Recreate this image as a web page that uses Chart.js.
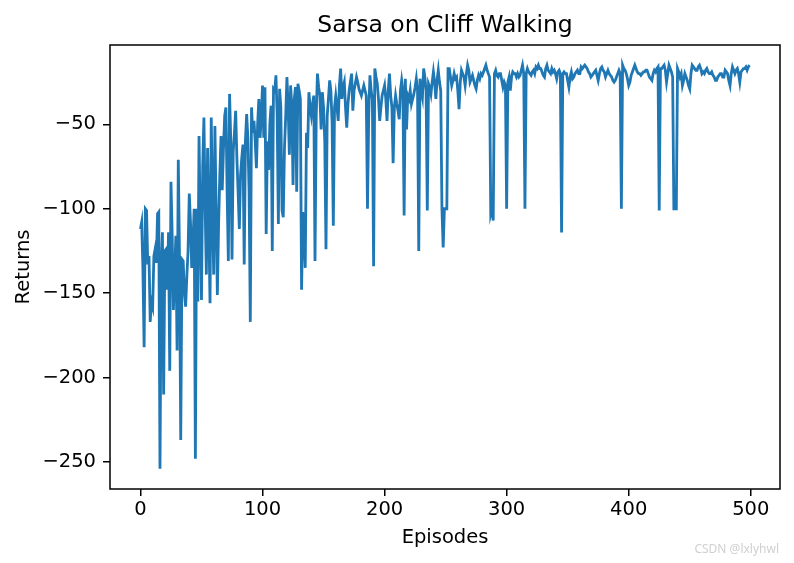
<!DOCTYPE html>
<html>
<head>
<meta charset="utf-8">
<script src="https://cdn.jsdelivr.net/npm/chart.js@4/dist/chart.umd.min.js"></script>
<style>
  html, body { margin: 0; padding: 0; background: #fff; }
</style>
</head>
<body>
<canvas id="returnsChart" width="794" height="563"></canvas>
<script>
// return of each episode (episode = index)
var returns = [
  -112, -108, -135, -182, -100, -101, -133, -128, -167, -155,
  -158, -128, -124, -132, -103, -102, -254, -135, -114, -210,
  -125, -124, -148, -114, -196, -84, -116, -160, -140, -116,
  -184, -71, -130, -237, -130, -131, -150, -158, -140, -125,
  -91, -108, -135, -120, -100, -248, -100, -155, -57, -110,
  -154, -75, -46, -100, -139, -64, -110, -156, -46, -100,
  -139, -51, -100, -151, -110, -80, -57, -89, -65, -45,
  -40, -90, -131, -32, -60, -130, -66, -55, -42, -70,
  -90, -112, -80, -70, -62, -133, -60, -44, -58, -90,
  -167, -40, -55, -48, -60, -76, -50, -35, -58, -45,
  -27, -58, -28, -115, -60, -77, -50, -39, -125, -29,
  -30, -21, -45, -109, -29, -40, -101, -105, -64, -45,
  -22, -40, -68, -27, -40, -86, -35, -28, -90, -26,
  -30, -35, -148, -102, -115, -135, -55, -64, -31, -40,
  -45, -38, -33, -131, -45, -20, -28, -33, -53, -31,
  -40, -60, -124, -45, -35, -24, -30, -49, -110, -40,
  -33, -40, -48, -27, -17, -35, -28, -25, -40, -52,
  -38, -30, -25, -20, -42, -30, -26, -22, -25, -29,
  -31, -33, -30, -27, -30, -33, -100, -45, -21, -30,
  -35, -134, -17, -22, -26, -35, -48, -40, -33, -30,
  -27, -35, -48, -30, -20, -33, -40, -73, -40, -33,
  -38, -42, -47, -30, -24, -30, -104, -23, -53, -33,
  -35, -30, -38, -35, -32, -28, -23, -30, -125, -23,
  -30, -34, -17, -22, -30, -101, -26, -28, -32, -25,
  -19, -25, -35, -24, -18, -25, -30, -100, -123, -100,
  -100, -100, -17, -17, -22, -27, -24, -20, -23, -22,
  -30, -41, -25, -18, -20, -22, -27, -20, -15, -18,
  -25, -23, -21, -24, -27, -29, -24, -21, -23, -20,
  -21, -19, -17, -15, -18, -20, -22, -103, -100, -107,
  -20, -18, -21, -22, -20, -20, -24, -28, -25, -27,
  -100, -25, -22, -30, -22, -19, -20, -20, -22, -20,
  -22, -21, -18, -15, -20, -100, -20, -17, -19, -20,
  -21, -19, -18, -20, -16, -17, -15, -17, -17, -19,
  -21, -22, -17, -15, -18, -19, -20, -17, -19, -18,
  -20, -23, -19, -18, -20, -114, -20, -19, -20, -20,
  -24, -28, -22, -19, -23, -22, -20, -19, -18, -20,
  -20, -16, -17, -16, -15, -16, -17, -19, -20, -22,
  -21, -20, -19, -18, -21, -24, -20, -17, -16, -18,
  -19, -22, -20, -18, -20, -21, -22, -24, -25, -24,
  -22, -20, -18, -20, -100, -15, -17, -18, -20, -23,
  -27, -25, -21, -19, -17, -15, -17, -19, -20, -20,
  -21, -20, -19, -19, -18, -18, -20, -22, -23, -24,
  -20, -18, -19, -17, -16, -101, -17, -17, -16, -15,
  -18, -25, -20, -15, -17, -19, -22, -100, -100, -100,
  -17, -19, -22, -20, -27, -24, -20, -22, -24, -27,
  -29, -20, -15, -16, -17, -18, -18, -16, -15, -17,
  -20, -19, -20, -18, -17, -19, -20, -20, -19, -21,
  -22, -24, -24, -22, -21, -20, -20, -22, -22, -18,
  -19, -20, -24, -27, -20, -16, -18, -20, -18, -17,
  -20, -25, -19, -18, -17, -17, -16, -18, -16, -15
];
var xTicks = [0, 100, 200, 300, 400, 500];
var yTicks = [-250, -200, -150, -100, -50];

var lineColor = '#1f77b4';
var fontFamily = '"DejaVu Sans", sans-serif';
var titleText = 'Sarsa on Cliff Walking';

// matplotlib style 5% margins around the data
var nEp = returns.length;
var xPad = (nEp - 1) * 0.05;
var yLo = Math.min.apply(null, returns), yHi = Math.max.apply(null, returns);
var yPad = (yHi - yLo) * 0.05;

function minusSign(v) {
  return v < 0 ? '\u2212' + Math.abs(v) : String(v);
}

// spines, title over the axes and the watermark
var framePlugin = {
  id: 'frame',
  afterDraw: function(chart) {
    var a = chart.chartArea, ctx = chart.ctx;
    ctx.save();
    ctx.strokeStyle = '#000';
    ctx.lineWidth = 1.5;
    ctx.strokeRect(a.left, a.top, a.right - a.left, a.bottom - a.top);

    ctx.fillStyle = '#000';
    ctx.font = '23.5px ' + fontFamily;
    ctx.textAlign = 'center';
    ctx.textBaseline = 'alphabetic';
    ctx.fillText(titleText, (a.left + a.right) / 2, 32);

    ctx.fillStyle = '#d0d0d0';
    ctx.font = '12px "Noto Sans", sans-serif';
    ctx.textAlign = 'right';
    ctx.textBaseline = 'middle';
    ctx.fillText('CSDN @lxlyhwl', 779, 550);
    ctx.restore();
  }
};

window.onload = function() {
  var ctx = document.getElementById('returnsChart').getContext('2d');
  new Chart(ctx, {
    type: 'line',
    data: {
      datasets: [{
        data: returns.map(function(r, i) { return { x: i, y: r }; }),
        borderColor: lineColor,
        borderWidth: 2.8,
        pointRadius: 0,
        tension: 0,
        fill: false
      }]
    },
    options: {
      responsive: false,
      animation: false,
      layout: { padding: { left: 0, right: 14, top: 45, bottom: 0 } },
      plugins: {
        legend: { display: false },
        tooltip: { enabled: false },
        title: { display: false }
      },
      scales: {
        x: {
          type: 'linear',
          min: -xPad,
          max: nEp - 1 + xPad,
          afterBuildTicks: function(s) { s.ticks = xTicks.map(function(v) { return { value: v }; }); },
          afterFit: function(s) { s.height = 74; },
          grid: { display: true, drawOnChartArea: false, drawTicks: true, tickLength: 7,
                  lineWidth: 1.5, color: '#000' },
          border: { display: false },
          ticks: { color: '#000', font: { family: fontFamily, size: 19.5 }, padding: 2, maxRotation: 0,
                   callback: function(v) { return minusSign(v); } },
          title: { display: true, text: 'Episodes', color: '#000',
                   font: { family: fontFamily, size: 19.5 }, padding: { top: 0, bottom: 13 } }
        },
        y: {
          type: 'linear',
          min: yLo - yPad,
          max: yHi + yPad,
          afterBuildTicks: function(s) { s.ticks = yTicks.map(function(v) { return { value: v }; }); },
          afterFit: function(s) { s.width = 110; },
          grid: { display: true, drawOnChartArea: false, drawTicks: true, tickLength: 7,
                  lineWidth: 1.5, color: '#000' },
          border: { display: false },
          ticks: { color: '#000', font: { family: fontFamily, size: 19.5 }, padding: 7,
                   callback: function(v) { return minusSign(v); } },
          title: { display: true, text: 'Returns', color: '#000',
                   font: { family: fontFamily, size: 19.5 }, padding: { top: 12, bottom: 0 } }
        }
      }
    },
    plugins: [framePlugin]
  });
};
</script>
</body>
</html>
